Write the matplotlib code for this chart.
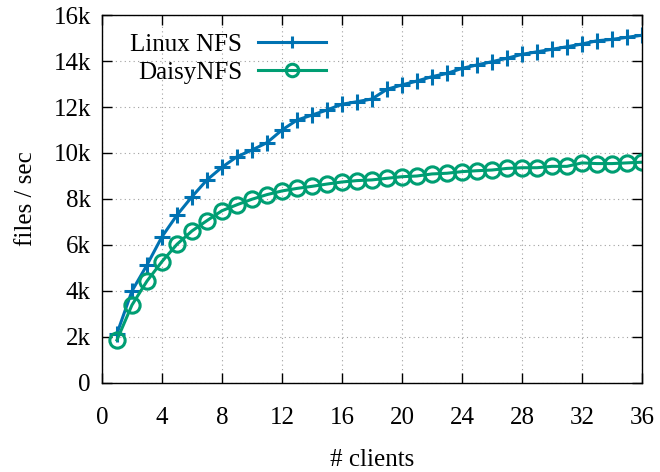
import matplotlib
matplotlib.use("Agg")
import matplotlib.pyplot as plt
from matplotlib.ticker import FuncFormatter

# datos (files / sec por numero de clientes)
clients = list(range(1, 37))
linux_nfs = [2150, 4000, 5130, 6360, 7300, 8100, 8830, 9380, 9840, 10130,
             10450, 11000, 11430, 11650, 11870, 12120, 12230, 12350, 12770, 12960,
             13130, 13320, 13460, 13680, 13830, 13970, 14120, 14290, 14400, 14510,
             14620, 14740, 14880, 14940, 15030, 15120]
daisy_nfs = [1870, 3390, 4430, 5280, 6030, 6610, 7060, 7490, 7750, 7990,
             8190, 8350, 8460, 8550, 8650, 8740, 8800, 8830, 8900, 8970,
             9000, 9090, 9120, 9190, 9230, 9260, 9330, 9360, 9360, 9420,
             9420, 9570, 9540, 9540, 9570, 9600]
x_ticks = list(range(0, 37, 4))
y_ticks = list(range(0, 16001, 2000))

plt.rcParams['font.family'] = ['Liberation Serif', 'DejaVu Serif']
plt.rcParams['font.size'] = 18

fig = plt.figure(figsize=(6.6, 4.72), dpi=100)
ax = fig.add_axes([0.1545, 0.1886, 0.8182, 0.7796])

ax.plot(clients, linux_nfs, color='#0072b2', lw=2.2, marker='+',
        markersize=11, markeredgewidth=2.2, label='Linux NFS')
ax.plot(clients, daisy_nfs, color='#009e73', lw=2.2, marker='o',
        markersize=11, markerfacecolor='none', markeredgewidth=2.2,
        label='DaisyNFS')

ax.set_xlim(0, 36)
ax.set_ylim(0, 16000)
ax.set_xticks(x_ticks)
ax.set_yticks(y_ticks)
ax.yaxis.set_major_formatter(FuncFormatter(
    lambda v, p: '0' if v == 0 else f'{int(v / 1000)}k'))

ax.tick_params(direction='in', length=7, width=1, top=True, right=True)
ax.tick_params(axis='x', pad=17.5)
ax.tick_params(axis='y', pad=8)
for s in ax.spines.values():
    s.set_linewidth(1)
ax.grid(True, linestyle=(0, (1, 3)), color='#a0a0a0', lw=0.8)
ax.set_axisbelow(True)

ax.set_xlabel('# clients', labelpad=14)
ax.set_ylabel('files / sec', labelpad=12)

leg = ax.legend(loc='upper left', frameon=False, markerfirst=False,
                handlelength=2.7, handletextpad=0.65, labelspacing=0.2,
                borderaxespad=0.3, bbox_to_anchor=(0.02, 0.997))
for h in leg.legend_handles:
    h.set_markersize(9)

fig.savefig('out.png', dpi=100)
